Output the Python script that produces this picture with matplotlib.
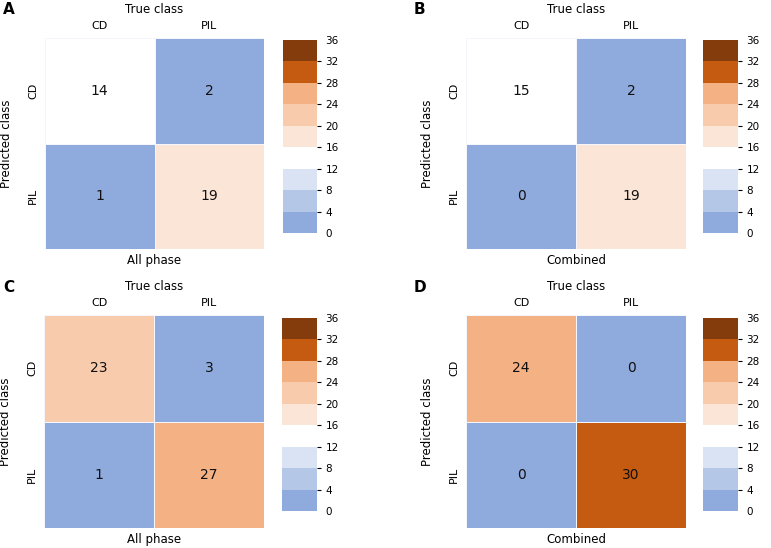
import numpy as np
import matplotlib
matplotlib.use("Agg")
import matplotlib.pyplot as plt
from matplotlib.colors import ListedColormap, BoundaryNorm

# Datos de las matrices de confusión
classes = ["CD", "PIL"]
panel_letters = ["A", "B", "C", "D"]
bottom_labels = ["All phase", "Combined", "All phase", "Combined"]
mat_a = [[14, 2], [1, 19]]
mat_b = [[15, 2], [0, 19]]
mat_c = [[23, 3], [1, 27]]
mat_d = [[24, 0], [0, 30]]
matrices = [mat_a, mat_b, mat_c, mat_d]

# Escala discreta de colores
bounds = [0, 4, 8, 12, 16, 20, 24, 28, 32, 36]
level_colors = ["#8FAADC", "#B4C7E7", "#DAE3F3", "#FFFFFF",
                "#FBE5D6", "#F8CBAD", "#F4B183", "#C55A11", "#843C0C"]
cmap = ListedColormap(level_colors)
norm = BoundaryNorm(bounds, cmap.N)

W, H = 771, 548
fig = plt.figure(figsize=(W / 100, H / 100), dpi=100)
plt.rcParams["font.family"] = "DejaVu Sans"


def px_axes(x0, y0, x1, y1):
    return fig.add_axes([x0 / W, 1 - y1 / H, (x1 - x0) / W, (y1 - y0) / H])


# (heatmap x0, y0, x1, y1), (colorbar x0, y0, x1, y1), letter position
layout = [
    ((45, 38, 264, 249), (283, 40, 317, 233), (3, 10)),
    ((466, 38, 686, 249), (703, 40, 738, 233), (414, 10)),
    ((44, 315, 264, 528), (282, 318, 317, 511), (3, 288)),
    ((466, 315, 686, 528), (703, 318, 738, 511), (414, 288)),
]

for i, mat in enumerate(matrices):
    hm_box, cb_box, letter_pos = layout[i]
    ax = px_axes(*hm_box)
    data = np.array(mat)
    mesh = ax.pcolormesh(np.arange(3), np.arange(3), data, cmap=cmap, norm=norm,
                         edgecolors="#F4F6FB", linewidth=0.6)
    ax.set_xlim(0, 2)
    ax.set_ylim(2, 0)
    for r in range(2):
        for c in range(2):
            ax.text(c + 0.5, r + 0.5, str(data[r, c]), ha="center", va="center",
                    fontsize=10, color="#111111")
    for s in ax.spines.values():
        s.set_visible(False)
    ax.xaxis.tick_top()
    ax.set_xticks([0.5, 1.5])
    ax.set_xticklabels(classes, fontsize=8)
    ax.set_yticks([0.5, 1.5])
    ax.set_yticklabels(classes, fontsize=8, rotation=90, va="center")
    ax.tick_params(length=0, pad=5)
    ax.xaxis.set_label_position("top")
    ax.set_xlabel("True class", fontsize=8.5, labelpad=6)
    ax.set_ylabel("Predicted class", fontsize=8.5, labelpad=11)
    ax.text(0.5, -0.025, bottom_labels[i], transform=ax.transAxes,
            ha="center", va="top", fontsize=8.5)

    cax = px_axes(*cb_box)
    cb = fig.colorbar(mesh, cax=cax, ticks=bounds, spacing="proportional")
    cb.outline.set_visible(False)
    cb.ax.tick_params(labelsize=7.5, length=3, width=0.8, pad=3)
    cb.ax.set_yticklabels([str(b) for b in bounds])
    ticks = cb.ax.yaxis.get_major_ticks()
    ticks[0].tick2line.set_visible(False)
    ticks[-1].tick2line.set_visible(False)

    fig.text(letter_pos[0] / W, 1 - letter_pos[1] / H, panel_letters[i],
             fontsize=11, fontweight="bold", ha="left", va="center")

fig.savefig("out.png", dpi=100)
